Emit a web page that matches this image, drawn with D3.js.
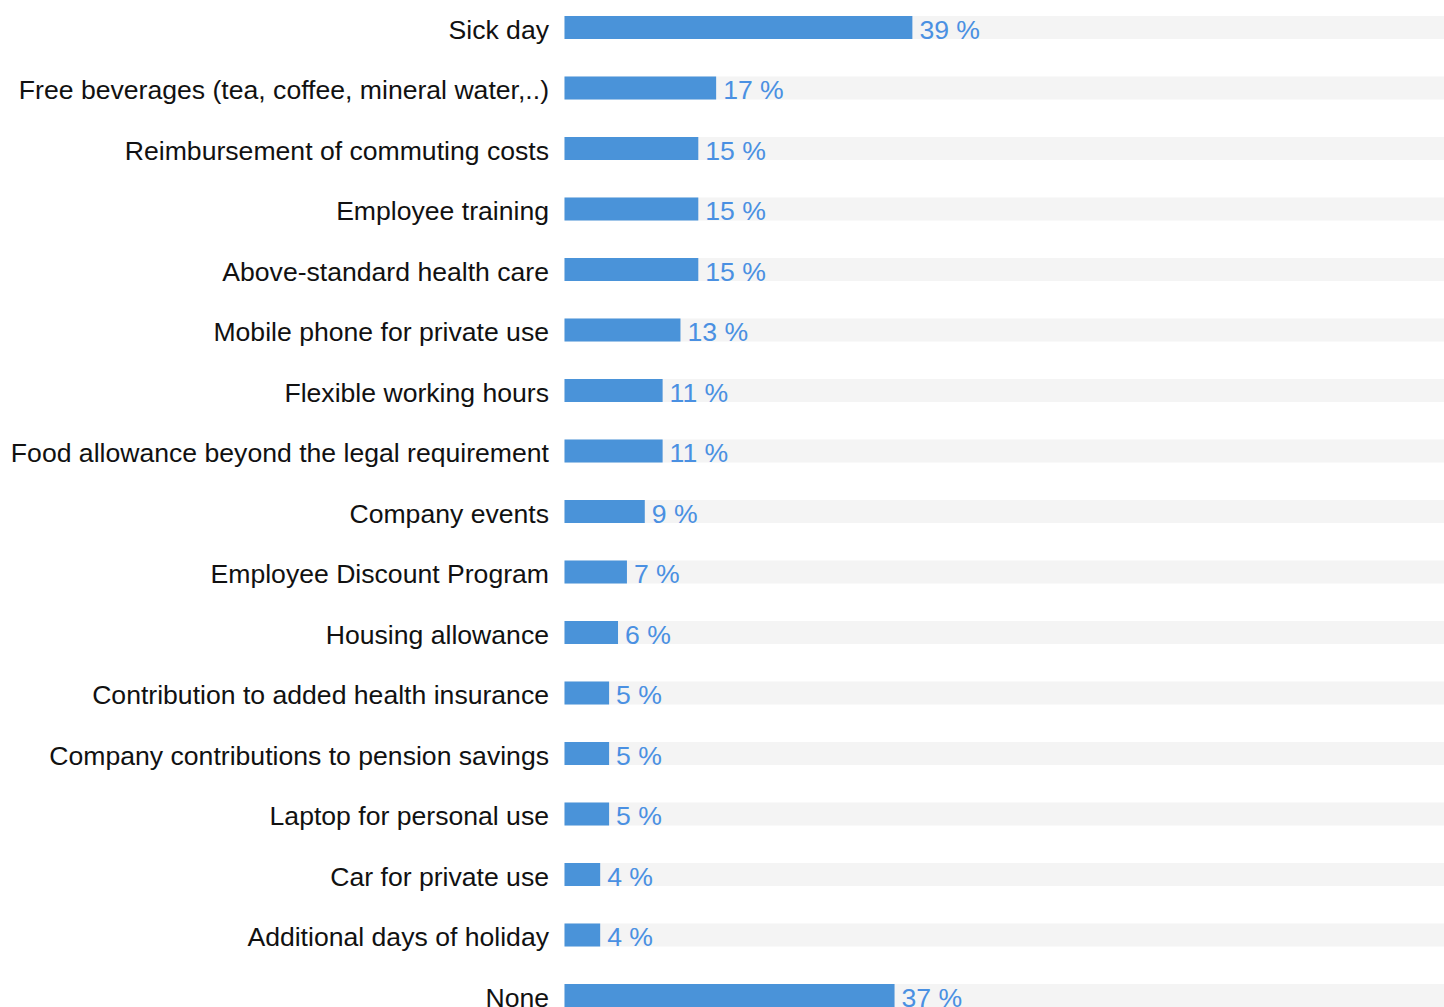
<!DOCTYPE html>
<html>
<head>
<meta charset="utf-8">
<script src="https://cdn.jsdelivr.net/npm/d3@7"></script>
<style>
  html, body { margin: 0; padding: 0; background: #fff; overflow: hidden; }
  svg { display: block; }
  .label { font-family: "Liberation Sans", Arial, sans-serif; font-size: 26.6px; fill: #111; }
  .value { font-family: "Liberation Sans", Arial, sans-serif; font-size: 26.6px; fill: #4a90e2; }
</style>
</head>
<body>
<svg id="chart" width="1444" height="1007"></svg>
<script>
var categories = [
  'Sick day',
  'Free beverages (tea, coffee, mineral water,..)',
  'Reimbursement of commuting costs',
  'Employee training',
  'Above-standard health care',
  'Mobile phone for private use',
  'Flexible working hours',
  'Food allowance beyond the legal requirement',
  'Company events',
  'Employee Discount Program',
  'Housing allowance',
  'Contribution to added health insurance',
  'Company contributions to pension savings',
  'Laptop for personal use',
  'Car for private use',
  'Additional days of holiday',
  'None'
];
var shares = [39, 17, 15, 15, 15, 13, 11, 11, 9, 7, 6, 5, 5, 5, 4, 4, 37];

var svg = d3.select('#chart');
var left = 564.5;
var rowStep = 60.5;
var barHeight = 23;

var x = d3.scaleLinear().domain([0, 100]).range([0, 892]);
var y = d3.scaleBand()
  .domain(categories)
  .range([4, 4 + rowStep * categories.length])
  .paddingInner(0)
  .paddingOuter(0);

var row = svg.selectAll('.row')
  .data(categories)
  .enter()
  .append('g')
  .attr('class', 'row')
  .attr('transform', function (d) {
    return 'translate(0,' + (y(d) + 12) + ')';
  });

// grey track
row.append('rect')
  .attr('x', left)
  .attr('y', 0)
  .attr('width', x(100))
  .attr('height', barHeight)
  .attr('fill', '#f4f4f4');

row.append('rect')
  .attr('x', left)
  .attr('y', 0)
  .attr('width', function (d, i) { return x(shares[i]); })
  .attr('height', barHeight)
  .attr('fill', '#4a93d9');

row.append('text')
  .attr('class', 'label')
  .attr('x', 549)
  .attr('y', barHeight / 2 + 2)
  .attr('dy', '0.35em')
  .attr('text-anchor', 'end')
  .text(function (d) { return d; });

row.append('text')
  .attr('class', 'value')
  .attr('x', function (d, i) { return left + x(shares[i]) + 7; })
  .attr('y', barHeight / 2 + 2)
  .attr('dy', '0.35em')
  .text(function (d, i) { return shares[i] + ' %'; });
</script>
</body>
</html>
